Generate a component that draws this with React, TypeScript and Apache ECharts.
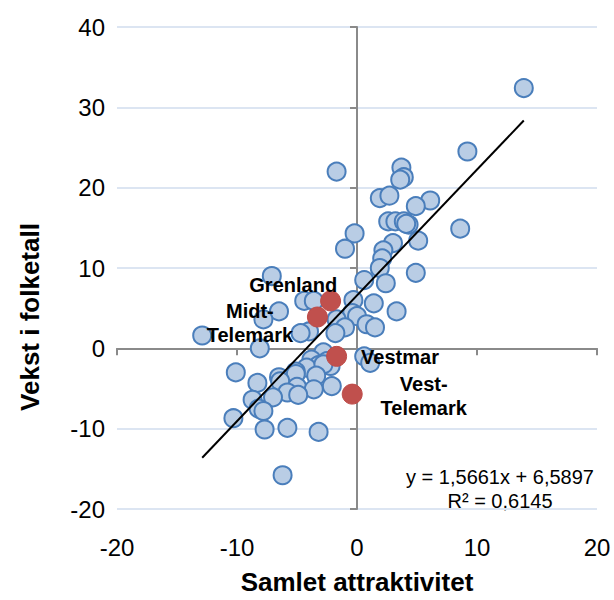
import React, { useEffect, useRef } from "react";
import * as echarts from "echarts";

const xTicks = [-20, -10, 0, 10, 20];
const yTicks = [-20, -10, 0, 10, 20, 30, 40];

const blueX = [
  13.9, 9.2, -1.7, 3.7, 3.9, 3.6, 1.9, 2.7, 6.1, 4.9,
  2.6, 3.2, 3.9, 4.3, 4.1, 8.6, -0.2, 5.1, 3.0, -1.0,
  2.2, 2.1, 1.9, 4.9, -7.1, 0.6, 2.4, -0.3, 1.4, -4.4,
  -3.6, -6.5, 3.3, -0.4, 0.0, -7.8, -1.7, 0.8, 1.5, -1.0,
  -4.0, -4.7, -1.8, -12.9, -8.1, -2.8, 0.6, 1.1, -3.8, -2.5,
  -2.2, -3.2, -4.2, -2.8, -10.1, -5.1, -3.4, -6.5, -5.1, -8.3,
  -6.4, -5.0, -2.1, -3.6, -5.8, -4.9, -7.0, -8.7, -8.2, -7.8,
  -10.3, -7.7, -5.8, -3.2, -6.2,
];
const blueY = [
  32.4, 24.5, 22.0, 22.5, 21.3, 21.0, 18.7, 19.0, 18.4, 17.7,
  15.8, 15.8, 15.8, 15.4, 15.5, 14.9, 14.3, 13.4, 13.1, 12.4,
  12.2, 11.2, 10.0, 9.4, 9.0, 8.5, 8.1, 6.0, 5.6, 5.9,
  5.9, 4.6, 4.6, 4.4, 4.0, 3.6, 3.6, 3.0, 2.6, 2.6,
  2.1, 1.9, 1.9, 1.6, 0.0, -0.5, -1.0, -1.8, -1.4, -1.6,
  -2.2, -2.1, -2.4, -2.0, -3.0, -2.9, -3.4, -3.6, -3.2, -4.3,
  -4.1, -4.8, -4.7, -5.1, -5.5, -5.8, -6.1, -6.4, -7.5, -7.8,
  -8.7, -10.1, -9.9, -10.4, -15.8,
];

const redNames = ["Grenland", "Midt-Telemark", "Vestmar", "Vest-Telemark"];
const redLabels = ["Grenland", "Midt-\nTelemark", "Vestmar", "Vest-\nTelemark"];
const redX = [-2.2, -3.3, -1.7, -0.4];
const redY = [5.9, 3.9, -1.0, -5.7];

const trendSlope = 1.5661;
const trendIntercept = 6.5897;
const trendText = ["y = 1,5661x + 6,5897", "R² = 0,6145"];

const FONT = "'Liberation Sans', Arial, sans-serif";

export default function App() {
  const ref = useRef<HTMLDivElement>(null);
  useEffect(() => {
    document.body.style.margin = "0";
    if (!ref.current) return;
    const chart = echarts.init(ref.current, null, { renderer: "svg" });

    const bluePts = blueX.map((x, i) => [x, blueY[i]]);
    const xMin = Math.min(...blueX, ...redX);
    const xMax = Math.max(...blueX, ...redX);
    const trendPts = [xMin, xMax].map((x) => [x, trendSlope * x + trendIntercept]);

    const labelCfg = [
      { position: [17, -5], align: "right" },
      { position: [-57, 16], align: "center" },
      { position: [35, 11], align: "left" },
      { position: [82, 12], align: "center" },
    ];
    const redData = redX.map((x, i) => ({
      name: redNames[i],
      value: [x, redY[i]],
      label: {
        show: true,
        formatter: redLabels[i],
        position: labelCfg[i].position,
        align: labelCfg[i].align,
        verticalAlign: "middle",
        fontFamily: FONT,
        fontSize: 20,
        fontWeight: "bold",
        lineHeight: 24,
        color: "#000",
      },
    }));

    const axisGray = "#8A8A8A";
    const gridBlue = "#DCE5F2";

    chart.setOption({
      animation: false,
      backgroundColor: "#fff",
      grid: { left: 117, right: 17, top: 27, bottom: 90, containLabel: false },
      xAxis: [
        {
          type: "value",
          min: -20,
          max: 20,
          interval: 10,
          position: "bottom",
          axisLine: { show: false },
          axisTick: { show: false },
          splitLine: { show: false },
          axisLabel: {
            margin: 26,
            fontFamily: FONT,
            fontSize: 24,
            color: "#000",
            customValues: xTicks,
          },
          name: "Samlet attraktivitet",
          nameLocation: "middle",
          nameGap: 60,
          nameTextStyle: { fontFamily: FONT, fontSize: 26, fontWeight: "bold", color: "#000" },
        },
        {
          type: "value",
          min: -20,
          max: 20,
          interval: 10,
          position: "top",
          axisLine: { show: true, onZero: true, onZeroAxisIndex: 0, lineStyle: { color: axisGray, width: 2 } },
          axisTick: { show: true, inside: true, length: 7, lineStyle: { color: axisGray, width: 2 } },
          axisLabel: { show: false },
          splitLine: { show: false },
        },
      ],
      yAxis: [
        {
          type: "value",
          min: -20,
          max: 40,
          interval: 10,
          position: "left",
          axisLine: { show: false },
          axisTick: { show: false },
          splitLine: { show: true, lineStyle: { color: gridBlue, width: 2 } },
          axisLabel: {
            margin: 12,
            fontFamily: FONT,
            fontSize: 24,
            color: "#000",
            customValues: yTicks,
          },
        },
        {
          type: "value",
          min: -20,
          max: 40,
          interval: 10,
          position: "right",
          axisLine: { show: true, onZero: true, onZeroAxisIndex: 0, lineStyle: { color: axisGray, width: 2 } },
          axisTick: { show: true, inside: true, length: 7, lineStyle: { color: axisGray, width: 2 } },
          axisLabel: { show: false },
          splitLine: { show: false },
        },
      ],
      graphic: [
        {
          type: "text",
          x: 30,
          y: 317,
          rotation: Math.PI / 2,
          style: {
            text: "Vekst i folketall",
            fontFamily: FONT,
            fontSize: 26,
            fontWeight: "bold",
            fill: "#000",
            textAlign: "center",
            textVerticalAlign: "middle",
          },
        },
        {
          type: "text",
          x: 500,
          y: 489,
          style: {
            text: trendText.join("\n"),
            fontFamily: FONT,
            fontSize: 20,
            lineHeight: 24,
            fill: "#000",
            textAlign: "center",
            textVerticalAlign: "middle",
          },
        },
      ],
      series: [
        {
          type: "scatter",
          xAxisIndex: 0,
          yAxisIndex: 0,
          data: bluePts,
          symbolSize: 18,
          itemStyle: { color: "#B9CDE5", borderColor: "#4A7EBB", borderWidth: 2, opacity: 1 },
          z: 2,
        },
        {
          type: "line",
          xAxisIndex: 0,
          yAxisIndex: 0,
          data: trendPts,
          showSymbol: false,
          symbol: "none",
          lineStyle: { color: "#000", width: 2 },
          z: 3,
        },
        {
          type: "scatter",
          xAxisIndex: 0,
          yAxisIndex: 0,
          data: redData,
          symbolSize: 20,
          itemStyle: { color: "#C0504D", borderColor: "#BE4B48", borderWidth: 1, opacity: 1 },
          z: 4,
        },
      ],
    });
    return () => chart.dispose();
  }, []);
  return <div ref={ref} style={{ position: "fixed", left: 0, top: 0, width: 614, height: 600 }} />;
}
